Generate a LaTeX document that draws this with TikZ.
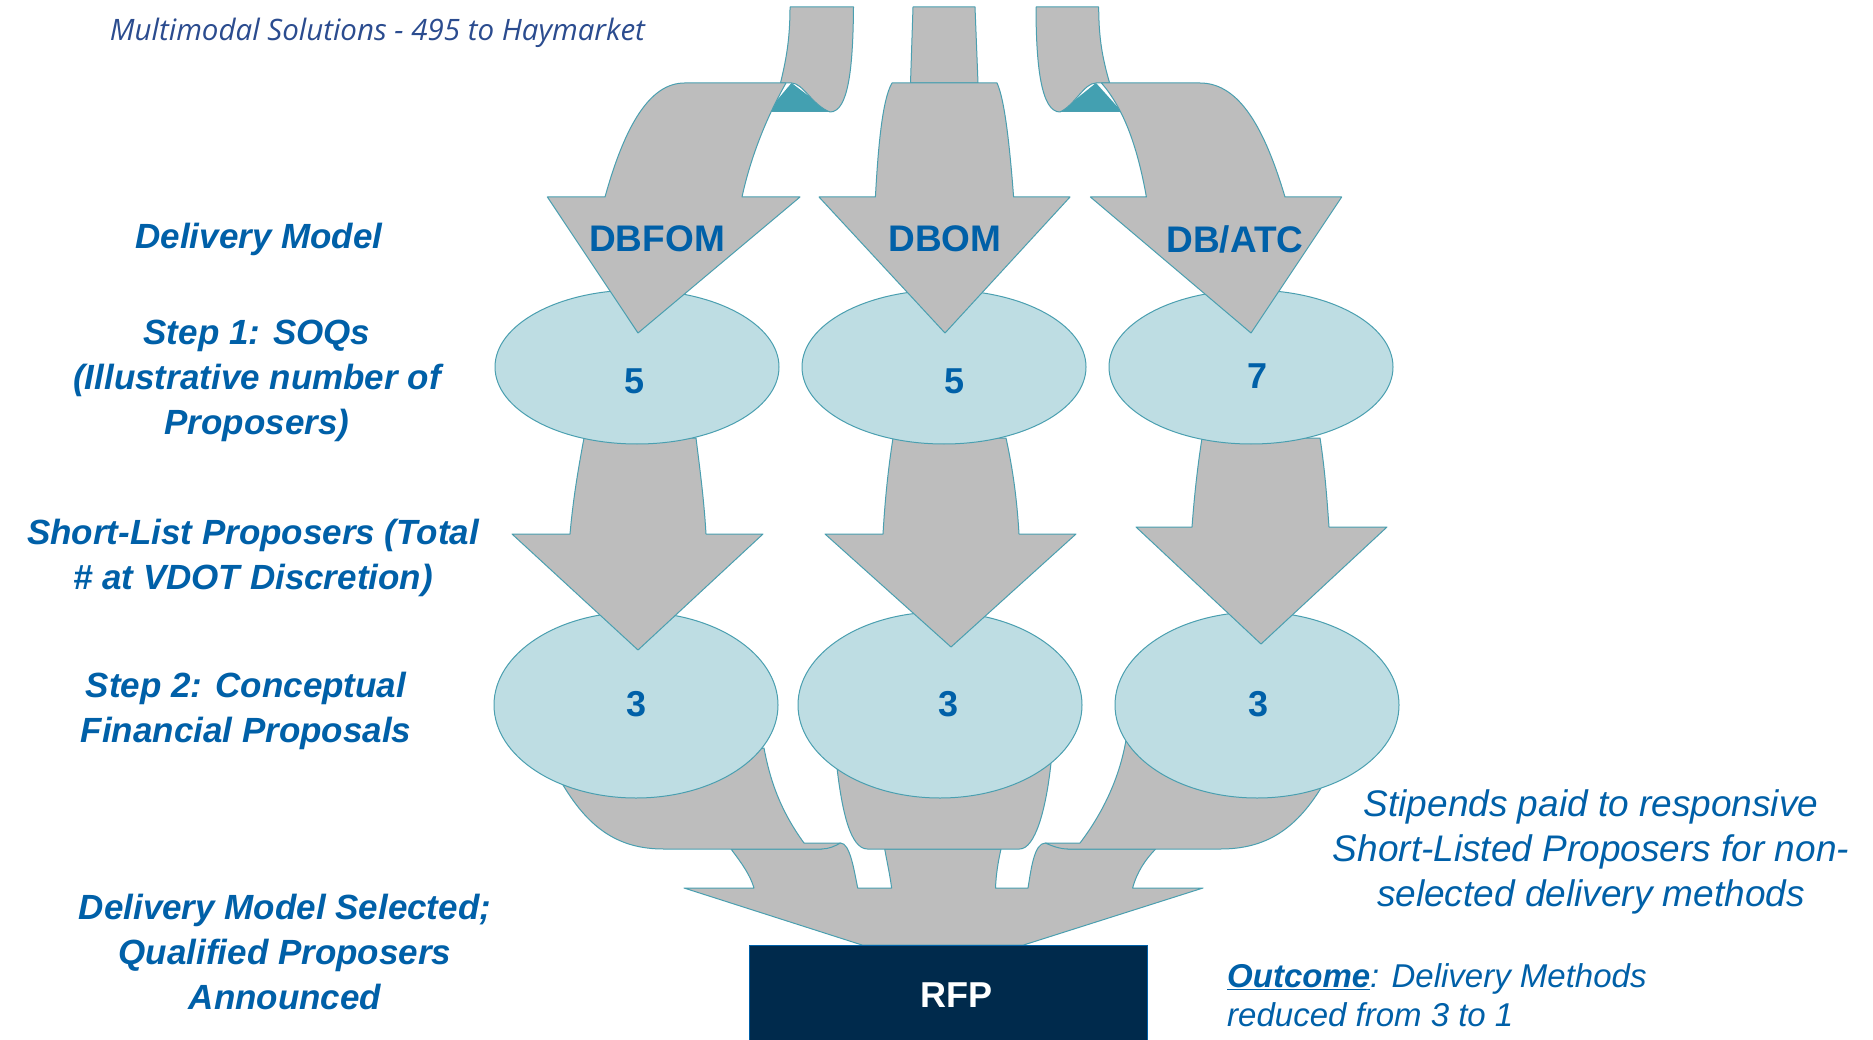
\documentclass[tikz,border=0pt]{standalone}
\usepackage{fontspec}
\setmainfont{Liberation Sans}
\newfontfamily\headfont{Open Sans}
\definecolor{bluetxt}{HTML}{0060A8}
\definecolor{headblue}{HTML}{2B4C8F}
\definecolor{arrowgray}{HTML}{BDBDBD}
\definecolor{tealline}{HTML}{4A9FB0}
\definecolor{tealfill}{HTML}{43A0B1}
\definecolor{paleteal}{HTML}{BEDDE3}
\definecolor{navy}{HTML}{002A4C}
\tikzset{
  flow/.style={fill=arrowgray,draw=tealline,line width=1pt,line join=round},
  fold/.style={draw=tealline,line width=1pt},
  pocket/.style={fill=tealfill,draw=none},
  oval/.style={ellipse,fill=paleteal,draw=tealline,line width=1pt,inner sep=0pt},
  stage/.style={font=\fontsize{35}{45}\selectfont\bfseries\itshape,text=bluetxt,align=center,inner sep=0pt},
  note/.style={font=\fontsize{37}{45}\selectfont\itshape,text=bluetxt,align=center,inner sep=0pt},
  model/.style={font=\fontsize{37}{44}\selectfont\bfseries,text=bluetxt,inner sep=0pt},
  count/.style={font=\fontsize{36}{44}\selectfont\bfseries,text=bluetxt,inner sep=0pt}
}
\usetikzlibrary{shapes.geometric}
\begin{document}
\begin{tikzpicture}[x=1pt,y=-1pt]
\useasboundingbox (0,0) rectangle (1873,1040);
\fill[white] (0,0) rectangle (1873,1040);
% logo remnant
\fill[gray!75] (131,0) arc[start angle=180,end angle=360,x radius=41,y radius=7] -- cycle;
\node[font=\fontsize{29.5}{34}\selectfont\headfont\itshape,text=headblue,anchor=base,inner sep=0pt] (head) at (377.5,41) {Multimodal Solutions - 495 to Haymarket};
% lower merge arrow
\path[flow] (731,849) .. controls (743,865) and (750,875) .. (754,888) -- (684,888) -- (862,945) -- (1023.6,945) -- (1203,888) -- (1132.6,888) .. controls (1137,872) and (1145,860) .. (1155.6,849) -- (1068,849) -- (1045.4,843) .. controls (1034,843) and (1031,870) .. (1028,888) -- (995.5,888) .. controls (996,875) and (998,862) .. (1001,849) -- (884.7,849) .. controls (887,862) and (890,875) .. (891.6,888) -- (857.7,888) .. controls (854,870) and (850,843) .. (840.5,843) -- (821.5,849) -- cycle;
% band from each step 2 oval
\path[flow] (563,785) .. controls (590,830) and (620,849) .. (663.7,849) -- (821.5,849) .. controls (829,849) and (835,846) .. (840.5,843) -- (804,843) .. controls (780,810) and (770,780) .. (764,748) -- cycle;
\path[flow] (1321,788) .. controls (1295,830) and (1265,849) .. (1220.5,849) -- (1068,849) .. controls (1060,849) and (1052,846) .. (1045.4,843) -- (1080,843) .. controls (1105,810) and (1120,775) .. (1126,740) -- cycle;
\path[flow] (837,768) .. controls (842,810) and (850,849) .. (867.5,849) -- (1019.6,849) .. controls (1035,849) and (1046,810) .. (1051,763) -- cycle;
% step 2 ovals
\node[oval,minimum width=284pt,minimum height=186pt] (c1) at (636,705) {};
\node[oval,minimum width=284pt,minimum height=186pt] (c2) at (940,705) {};
\node[oval,minimum width=284pt,minimum height=186pt] (c3) at (1257,705) {};
% short list arrows
\path[flow] (584,438) .. controls (578,470) and (573,500) .. (570,534) -- (512,534) -- (638,650) -- (763,534) -- (706,534) .. controls (704,500) and (700,470) .. (696,438) -- cycle;
\path[flow] (893,438) .. controls (888,470) and (885,500) .. (883,534) -- (825,534) -- (951,647) -- (1076,534) -- (1019,534) .. controls (1017,500) and (1013,470) .. (1006,438) -- cycle;
\path[flow] (1202,438) .. controls (1197,470) and (1194,500) .. (1192,527) -- (1136,527) -- (1261,644) -- (1387,527) -- (1329,527) .. controls (1327,500) and (1325,470) .. (1320,438) -- cycle;
% step 1 ovals
\node[oval,minimum width=284pt,minimum height=154pt] (b1) at (637,367) {};
\node[oval,minimum width=284pt,minimum height=154pt] (b2) at (944,367) {};
\node[oval,minimum width=284pt,minimum height=154pt] (b3) at (1251,367) {};
% incoming strips
\path[pocket] (767,112) -- (830,112) -- (791.5,83) -- cycle;
\path[pocket] (1060,112) -- (1122,112) -- (1096,83) -- cycle;
\path[flow] (790,7) -- (853.5,7) .. controls (853,70) and (848,112) .. (830,112) .. controls (812,105) and (803,83) .. (791.5,83) -- (780.5,83) .. controls (786,60) and (790,40) .. (790,7) -- cycle;
\path[flow] (1098.7,7) -- (1036,7) .. controls (1036,70) and (1042,112) .. (1060,112) .. controls (1075,105) and (1084,83) .. (1096,83) -- (1109.6,83) .. controls (1103,60) and (1098.7,40) .. (1098.7,7) -- cycle;
\path[flow] (913,7) -- (975,7) -- (978,83) -- (910.5,83) -- cycle;
\draw[fold] (767,112) -- (830,112);
\draw[fold] (1060,112) -- (1122,112);
% delivery model arrows
\path[flow] (684.5,83) -- (786,83) .. controls (765,120) and (750,160) .. (742,197) -- (800,197) -- (638,333) -- (547.4,197) -- (605,197) .. controls (625,125) and (650,83) .. (684.5,83) -- cycle;
\path[flow] (892,83) -- (997,83) .. controls (1005,100) and (1010,150) .. (1013.6,197) -- (1070,197) -- (945,333) -- (819,197) -- (875.4,197) .. controls (878,150) and (882,100) .. (892,83) -- cycle;
\path[flow] (1101.4,83) -- (1200,83) .. controls (1240,83) and (1265,130) .. (1285,197) -- (1341.7,197) -- (1251,333) -- (1090.4,197) -- (1146.4,197) .. controls (1138,150) and (1125,110) .. (1101.4,83) -- cycle;
% RFP box
\node[fill=navy,draw=bluetxt,line width=1pt,minimum width=398pt,minimum height=100pt,anchor=north west,inner sep=0pt] (rfpbox) at (748.6,945) {};
\node[font=\fontsize{36}{44}\selectfont\bfseries,text=white,inner sep=0pt] (rfp) at (956,995) {RFP};
% arrow labels
\node[model] (m1) at (657,239) {DBFOM};
\node[model] (m2) at (945,239) {DBOM};
\node[model] (m3) at (1235,239) {DB/ATC};
% counts
\node[count] (n1) at (635,381) {5};
\node[count] (n2) at (954,381) {5};
\node[count] (n3) at (1257,376) {7};
\node[count] (k1) at (637,704) {3};
\node[count] (k2) at (948,704) {3};
\node[count] (k3) at (1258,704) {3};
% left labels
\node[stage] (l1) at (259,239) {Delivery Model};
\node[stage] (l2) at (257,381) {Step 1: SOQs\\(Illustrative number of\\Proposers)};
\node[stage] (l3) at (253,558) {Short-List Proposers (Total\\\# at VDOT Discretion)};
\node[stage] (l4) at (246,711) {Step 2: Conceptual\\Financial Proposals};
\node[stage] (l5) at (285,952) {Delivery Model Selected;\\Qualified Proposers\\Announced};
% right notes
\node[note] (r1) at (1591,852) {Stipends paid to responsive\\Short-Listed Proposers for non-\\selected delivery methods};
\node[font=\fontsize{33}{39}\selectfont\itshape,text=bluetxt,align=left,anchor=west,inner sep=0pt] (r2) at (1227,995) {\underline{\textbf{Outcome}}: Delivery Methods\\reduced from 3 to 1};
\end{tikzpicture}
\end{document}
